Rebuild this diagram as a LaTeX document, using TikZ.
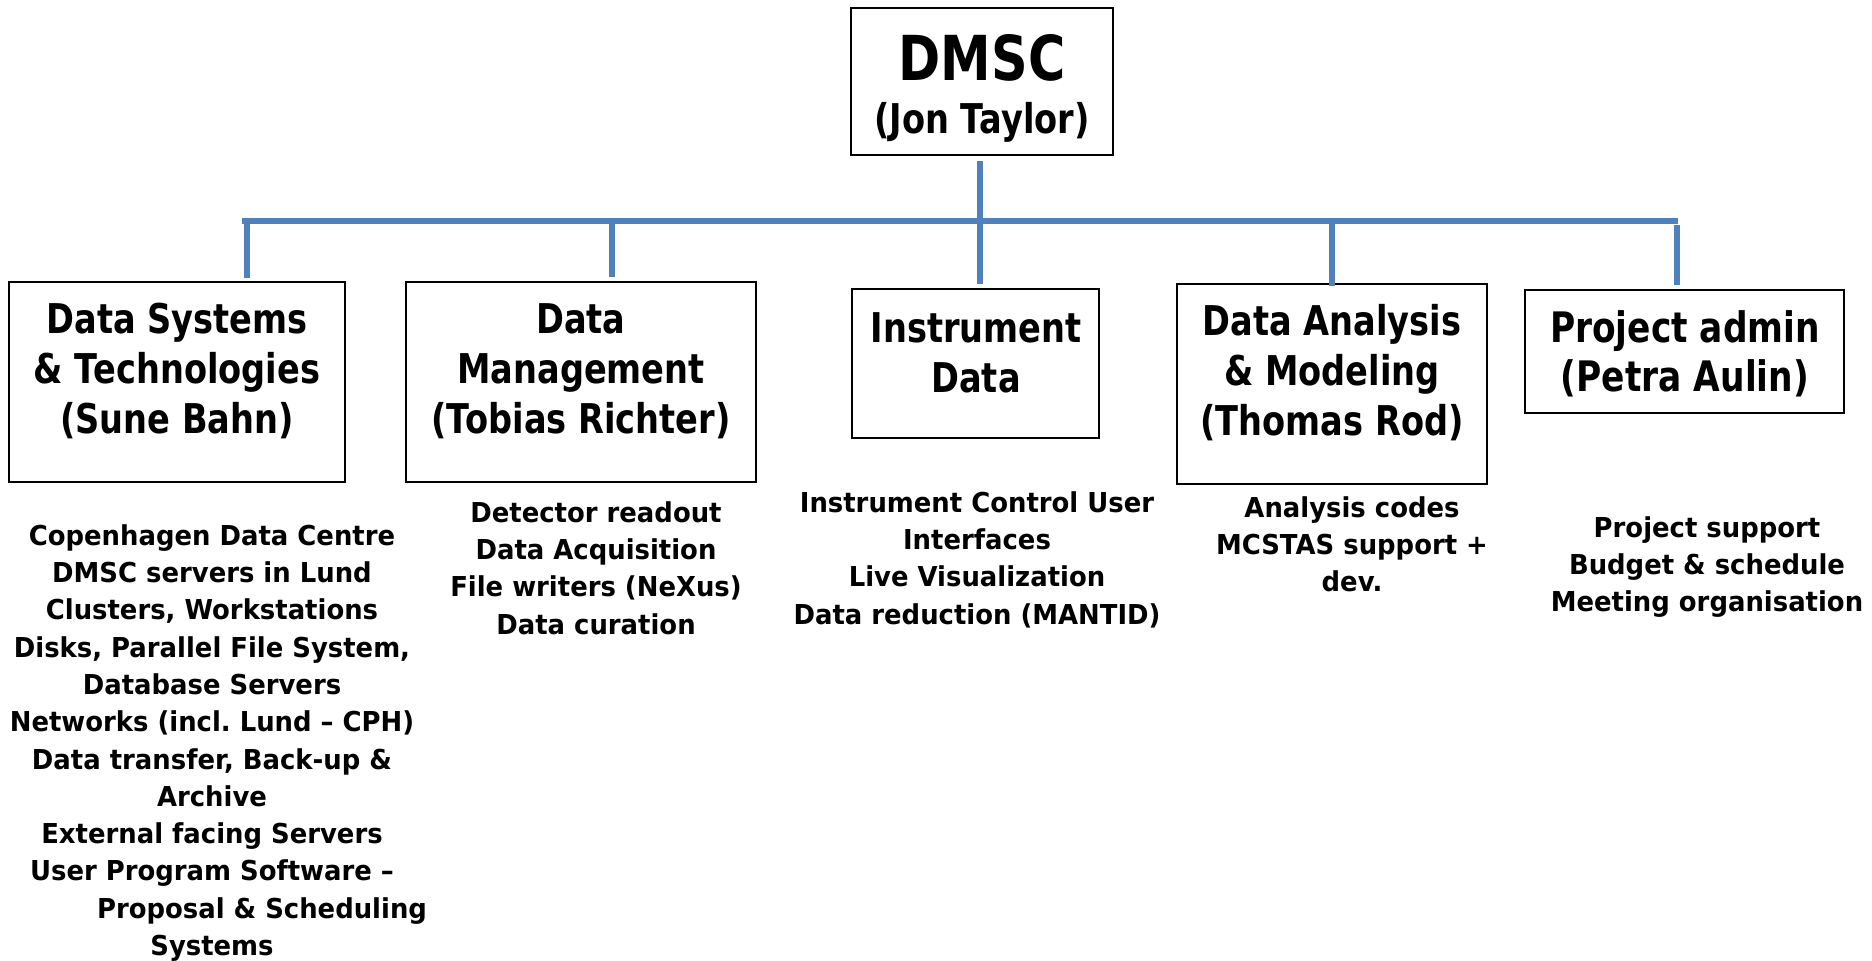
\documentclass[tikz,border=0pt]{standalone}
\usepackage{fontspec}
\setmainfont{DejaVu Sans}
\newfontfamily\headfont[FakeStretch=0.82]{DejaVu Sans}
\newfontfamily\itemfont[FakeStretch=0.945]{DejaVu Sans}
\definecolor{linkblue}{RGB}{79,129,189}

\begin{document}
\begin{tikzpicture}[x=1pt,y=-1pt,
  unit/.style={draw=black, line width=1.8pt, rectangle, inner sep=0pt},
  head/.style={font=\headfont\bfseries\fontsize{41}{50}\selectfont, align=center, inner sep=0pt, anchor=north},
  items/.style={font=\itemfont\bfseries\fontsize{27.4}{37.3}\selectfont, align=center, inner sep=0pt, anchor=north},
  link/.style={draw=linkblue, line width=5.5pt}]

\fill[white] (0,0) rectangle (1872,961);
\useasboundingbox (0,0) rectangle (1872,961);

% boxes
\node[unit, minimum width=262pt, minimum height=147pt] (root) at (982,81.5) {};
\node[unit, minimum width=336pt, minimum height=200pt] (b1) at (177,382) {};
\node[unit, minimum width=350pt, minimum height=200pt] (b2) at (581,382) {};
\node[unit, minimum width=247pt, minimum height=149pt] (b3) at (975.5,363.5) {};
\node[unit, minimum width=310pt, minimum height=200pt] (b4) at (1332,384) {};
\node[unit, minimum width=319pt, minimum height=123pt] (b5) at (1684.5,351.5) {};

% box titles
\node[head, anchor=base, font=\headfont\bfseries\fontsize{62}{62}\selectfont] (rootname) at (982,80) {DMSC};
\node[head, anchor=base] (rootlead) at (982,133) {(Jon Taylor)};
\node[head] (b1t) at (177,303.1) {Data Systems\\\& Technologies\\(Sune Bahn)};
\node[head] (b2t) at (581,303.1) {Data\\Management\\(Tobias Richter)};
\node[head] (b3t) at (976,312.1) {Instrument\\Data};
\node[head] (b4t) at (1332,303.8) {Data Analysis\\\& Modeling\\(Thomas Rod)};
\node[head, font=\headfont\bfseries\fontsize{42}{49}\selectfont] (b5t) at (1685,310.8) {Project admin\\(Petra Aulin)};

% task lists
\node[items] (i1) at (212,524.2) {Copenhagen Data Centre\\DMSC servers in Lund\\Clusters, Workstations\\Disks, Parallel File System,\\Database Servers\\Networks (incl.\ Lund – CPH)\\Data transfer, Back-up \&\\Archive\\External facing Servers\\User Program Software –\\\hspace*{100pt}Proposal \& Scheduling\\Systems};
\node[items] (i2) at (596,501.2) {Detector readout\\Data Acquisition\\File writers (NeXus)\\Data curation};
\node[items] (i3) at (977,491.2) {Instrument Control User\\Interfaces\\Live Visualization\\Data reduction (MANTID)};
\node[items] (i4) at (1352,496.2) {Analysis codes\\MCSTAS support +\\dev.};
\node[items] (i5) at (1707,516.2) {Project support\\Budget \& schedule\\Meeting organisation};

% connectors
\coordinate (barL) at (242,221);
\coordinate (barR) at (1678,221);
\coordinate (d1) at (247,221);
\coordinate (d2) at (612,221);
\coordinate (d4) at (1332,221);
\coordinate (d5) at (1677,221);
\draw[link] (barL) -- (barR);
\draw[link, shorten <=5pt, shorten >=4pt] ([xshift=-2pt]root.south) -- ([xshift=-2pt]root.south |- b3.north);
\draw[link, shorten >=3pt] (d1) -- (d1 |- b1.north);
\draw[link, shorten >=4pt] (d2) -- (d2 |- b2.north);
\draw[link, shorten >=-3pt] (d4) -- (d4 |- b4.north);
\draw[link, shorten <=4pt, shorten >=4pt] (d5) -- (d5 |- b5.north);
\end{tikzpicture}
\end{document}
